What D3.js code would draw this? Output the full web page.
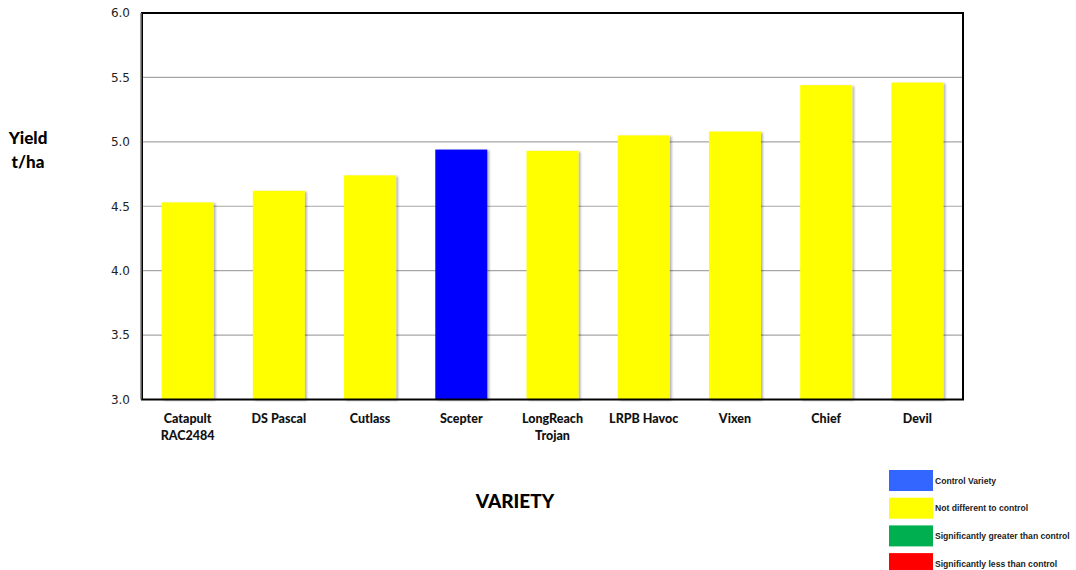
<html>
<head>
    <meta charset="utf-8">
    <title>Yield by variety</title>
    <script src="https://d3js.org/d3.v7.min.js"></script>
    <style>
        body { margin: 0; background: #fff; }
    </style>
</head>
<body>
<div id="chart"></div>

<script>
    var width = 1076,
        height = 570,
        margin = {top: 13, right: 113, bottom: 170, left: 142};

    // data
    var varieties = ["Catapult\nRAC2484", "DS Pascal", "Cutlass", "Scepter", "LongReach\nTrojan",
        "LRPB Havoc", "Vixen", "Chief", "Devil"];
    var yields = [4.53, 4.62, 4.74, 4.94, 4.93, 5.05, 5.08, 5.44, 5.46];
    var groups = ["nd", "nd", "nd", "control", "nd", "nd", "nd", "nd", "nd"];
    var yTicks = [3.0, 3.5, 4.0, 4.5, 5.0, 5.5, 6.0];
    var legendLabels = ["Control Variety", "Not different to control",
        "Significantly greater than control", "Significantly less than control"];
    var legendColors = ["#3366ff", "#ffff00", "#00b050", "#ff0000"];

    var barColor = {control: "#0000ff", nd: "#ffff00"};
    var labelFont = "Lato, Liberation Sans, Arial, sans-serif";

    var svg = d3.select("#chart").append("svg")
        .attr("width", width)
        .attr("height", height);

    var defs = svg.append("defs");
    var shadow = defs.append("filter").attr("id", "shadow")
        .attr("x", "-20%").attr("y", "-20%").attr("width", "150%").attr("height", "150%");
    shadow.append("feDropShadow")
        .attr("dx", 2).attr("dy", 1)
        .attr("stdDeviation", 1.2)
        .attr("flood-color", "#000")
        .attr("flood-opacity", 0.3);

    var innerW = width - margin.left - margin.right,
        innerH = 399.5 - margin.top;

    var x = d3.scaleBand()
        .domain(varieties)
        .range([margin.left, margin.left + innerW])
        .paddingInner(0.43)
        .paddingOuter(0.215);

    var y = d3.scaleLinear()
        .domain([3, 6])
        .range([margin.top + innerH, margin.top]);

    // grid lines
    svg.append("g")
        .selectAll("line")
        .data(yTicks.slice(1, -1))
        .enter().append("line")
        .attr("x1", margin.left)
        .attr("x2", margin.left + innerW)
        .attr("y1", function (d) { return y(d); })
        .attr("y2", function (d) { return y(d); })
        .attr("stroke", "#a6a6a6")
        .attr("stroke-width", 1.2);

    // bars
    svg.append("g")
        .selectAll("rect")
        .data(yields)
        .enter().append("rect")
        .attr("x", function (d, i) { return x(varieties[i]); })
        .attr("width", x.bandwidth())
        .attr("y", function (d) { return y(d); })
        .attr("height", function (d) { return y(3) - y(d); })
        .attr("fill", function (d, i) { return barColor[groups[i]]; })
        .attr("filter", "url(#shadow)");

    // frame
    svg.append("rect")
        .attr("x", margin.left)
        .attr("y", margin.top)
        .attr("width", innerW)
        .attr("height", innerH)
        .attr("fill", "none")
        .attr("stroke", "#000")
        .attr("stroke-width", 2);
    svg.append("line")
        .attr("x1", margin.left - 1).attr("x2", margin.left - 1)
        .attr("y1", margin.top).attr("y2", margin.top + innerH)
        .attr("stroke", "#777").attr("stroke-width", 1.5);

    // y axis
    var yAxis = d3.axisLeft(y)
        .tickValues(yTicks)
        .tickFormat(d3.format(".1f"))
        .tickSize(0)
        .tickPadding(12);
    var yg = svg.append("g")
        .attr("transform", "translate(" + margin.left + ",0)")
        .call(yAxis);
    yg.select(".domain").remove();
    yg.selectAll("text")
        .attr("font-family", "DejaVu Sans, Verdana, sans-serif")
        .attr("font-size", 12)
        .attr("fill", "#222");

    // x axis
    var xAxis = d3.axisBottom(x).tickSize(0).tickPadding(0);
    var xg = svg.append("g")
        .attr("transform", "translate(0," + (margin.top + innerH) + ")")
        .call(xAxis);
    xg.select(".domain").remove();
    xg.selectAll("text").each(function (d) {
        var t = d3.select(this).text("")
            .attr("font-family", labelFont)
            .attr("font-weight", 900)
            .attr("font-size", 12.5)
            .attr("fill", "#111")
            .attr("y", 0)
            .attr("dy", 0);
        d.split("\n").forEach(function (line, k) {
            t.append("tspan")
                .attr("x", 0)
                .attr("y", 23 + k * 17)
                .text(line);
        });
    });

    // axis titles
    var yTitle = svg.append("text")
        .attr("text-anchor", "middle")
        .attr("font-family", labelFont)
        .attr("font-weight", 900)
        .attr("font-size", 17)
        .attr("fill", "#000");
    yTitle.append("tspan").attr("x", 28).attr("y", 144).text("Yield");
    yTitle.append("tspan").attr("x", 28).attr("y", 168).text("t/ha");

    svg.append("text")
        .attr("x", 515)
        .attr("y", 508)
        .attr("text-anchor", "middle")
        .attr("font-family", labelFont)
        .attr("font-weight", 900)
        .attr("font-size", 19)
        .attr("fill", "#000")
        .text("VARIETY");

    // legend
    var legend = svg.append("g")
        .selectAll("g")
        .data(legendLabels)
        .enter().append("g")
        .attr("transform", function (d, i) { return "translate(889," + (470 + i * 27.7) + ")"; });
    legend.append("rect")
        .attr("width", 44)
        .attr("height", 21)
        .attr("fill", function (d, i) { return legendColors[i]; });
    legend.append("text")
        .attr("x", 46)
        .attr("y", 13.5)
        .attr("font-family", "Liberation Sans, Arial, sans-serif")
        .attr("font-weight", "bold")
        .attr("font-size", 8.6)
        .attr("fill", "#222")
        .text(function (d) { return d; });
</script>
</body>
</html>
